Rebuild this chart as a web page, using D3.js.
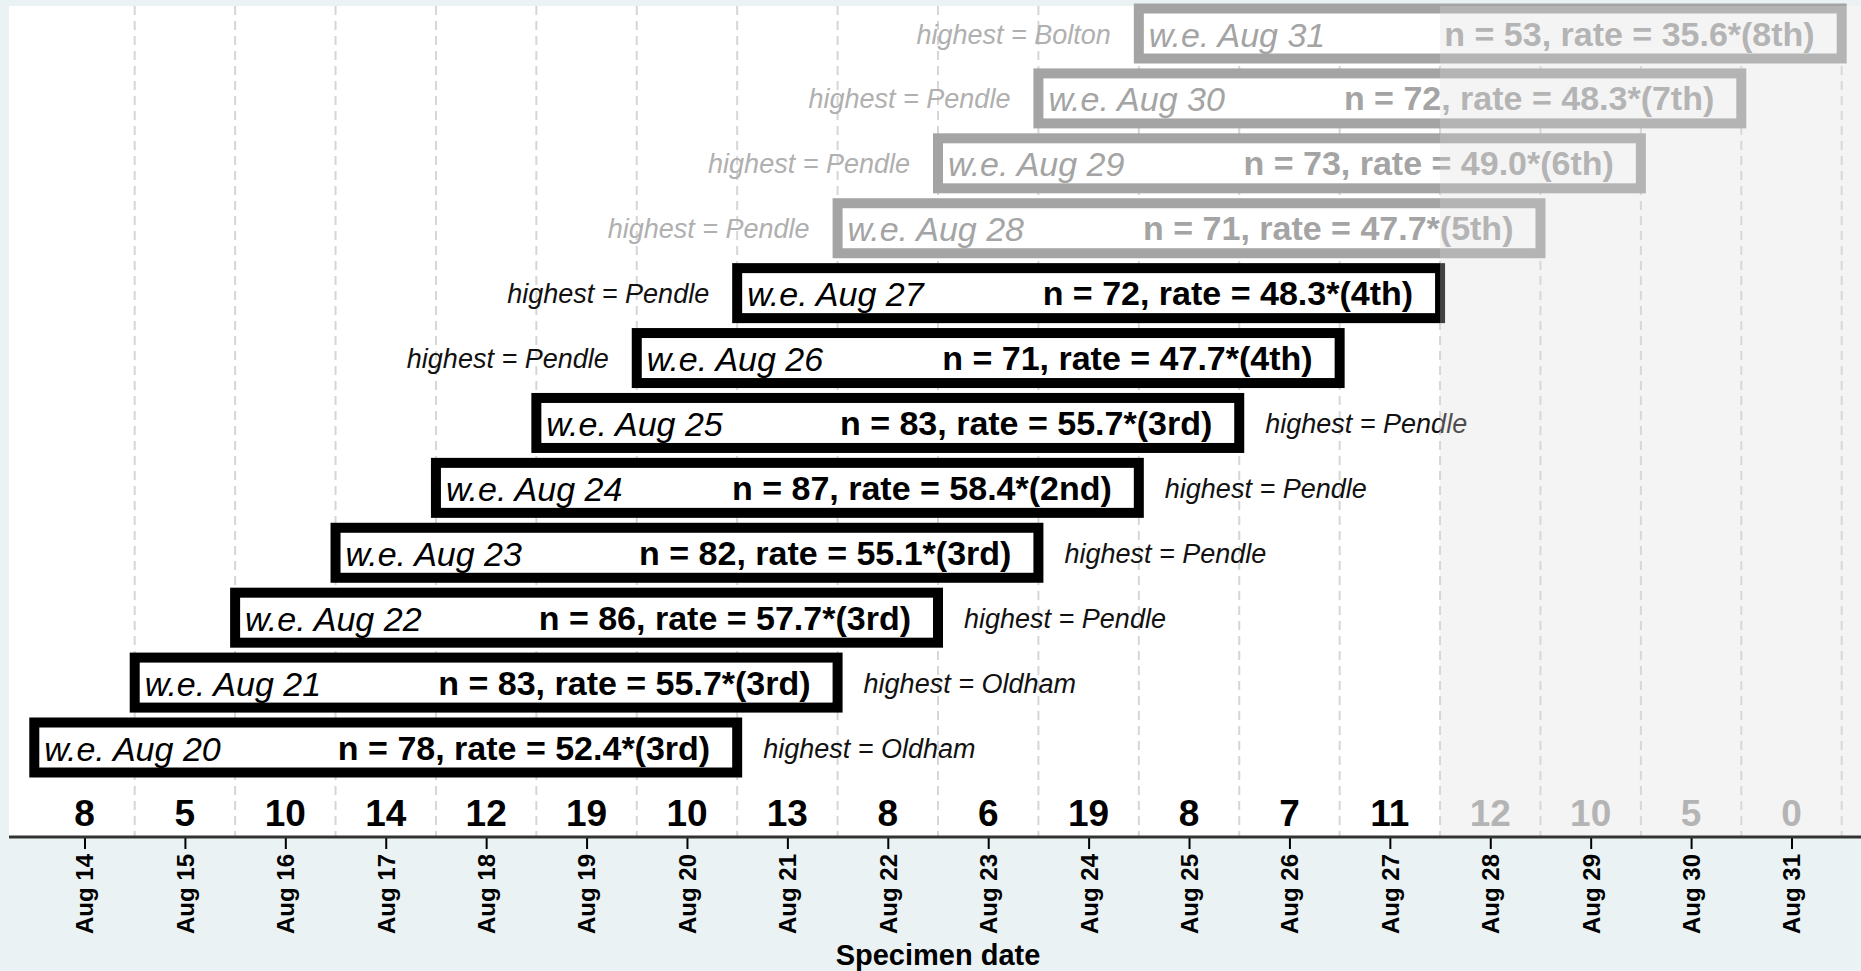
<!DOCTYPE html>
<html>
<head>
<meta charset="utf-8">
<script src="https://cdn.jsdelivr.net/npm/d3@7"></script>
<style>
  html, body { margin: 0; padding: 0; background: #eaf2f3; }
  svg { display: block; }
  text { font-family: "Liberation Sans", Arial, Helvetica, sans-serif; }
</style>
</head>
<body>
<svg id="chart" width="1861" height="971"></svg>
<script>
// ---- data ----
const days = [14, 15, 16, 17, 18, 19, 20, 21, 22, 23, 24, 25, 26, 27, 28, 29, 30, 31];
const dailyCounts = [8, 5, 10, 14, 12, 19, 10, 13, 8, 6, 19, 8, 7, 11, 12, 10, 5, 0];
const weekEnding = [20, 21, 22, 23, 24, 25, 26, 27, 28, 29, 30, 31];
const weekN = [78, 83, 86, 82, 87, 83, 71, 72, 71, 73, 72, 53];
const weekRate = ["52.4", "55.7", "57.7", "55.1", "58.4", "55.7", "47.7", "48.3", "47.7", "49.0", "48.3", "35.6"];
const weekRank = ["3rd", "3rd", "3rd", "3rd", "2nd", "3rd", "4th", "4th", "5th", "6th", "7th", "8th"];
const weekHighest = ["Oldham", "Oldham", "Pendle", "Pendle", "Pendle", "Pendle", "Pendle", "Pendle", "Pendle", "Pendle", "Pendle", "Bolton"];
const completeThrough = 27;   // later specimen dates are incomplete (greyed)
const labelRightThrough = 25; // weeks up to this date carry the "highest" note on the right
const monthName = "Aug";

// ---- layout ----
const W = 1861, H = 971;
const plot = { left: 9, right: 1861, top: 6, bottom: 837 };
const BLACK = "#000", GREY = "#a4a4a4";

const svg = d3.select("#chart");

const x = d3.scaleLinear().domain([14, 31]).range([84.5, 1791.5]);
const y = d3.scaleLinear().domain([20, 31]).range([747.5, 33.5]);

// plot region
svg.append("rect")
  .attr("x", plot.left).attr("y", plot.top)
  .attr("width", plot.right - plot.left).attr("height", plot.bottom - plot.top)
  .attr("fill", "#ffffff");

// dashed gridlines at day boundaries
svg.append("g").selectAll("line")
  .data(days)
  .join("line")
  .attr("x1", d => x(d + 0.5)).attr("x2", d => x(d + 0.5))
  .attr("y1", plot.top).attr("y2", plot.bottom)
  .attr("stroke", "#d6d6d6")
  .attr("stroke-width", 2)
  .attr("stroke-dasharray", "9,6");

// week rows
const weeks = weekEnding.map((d, i) => ({
  d, n: weekN[i], rate: weekRate[i], rank: weekRank[i], highest: weekHighest[i],
  col: d <= completeThrough ? BLACK : GREY,
  right: d <= labelRightThrough
}));

const rows = svg.append("g").selectAll("g").data(weeks).join("g");

rows.append("rect")
  .attr("x", w => x(w.d - 6.5))
  .attr("y", w => y(w.d) - 25)
  .attr("width", w => x(w.d + 0.5) - x(w.d - 6.5))
  .attr("height", 50)
  .attr("fill", "#ffffff")
  .attr("stroke", w => w.col)
  .attr("stroke-width", 10);

rows.append("text")
  .attr("x", w => x(w.d - 6.5) + 10)
  .attr("y", w => y(w.d) + 13)
  .attr("font-size", 34)
  .attr("font-style", "italic")
  .attr("fill", w => w.col)
  .text(w => `w.e. ${monthName} ${w.d}`);

rows.append("text")
  .attr("x", w => x(w.d + 0.5) - 27)
  .attr("y", w => y(w.d) + 12)
  .attr("font-size", 34)
  .attr("font-weight", "bold")
  .attr("text-anchor", "end")
  .attr("fill", w => w.col)
  .text(w => `n = ${w.n}, rate = ${w.rate}*(${w.rank})`);

rows.append("text")
  .attr("x", w => w.right ? x(w.d + 0.5) + 26 : x(w.d - 6.5) - 28)
  .attr("y", w => y(w.d) + 10)
  .attr("font-size", 27)
  .attr("font-style", "italic")
  .attr("text-anchor", w => w.right ? "start" : "end")
  .attr("fill", w => w.col === BLACK ? "#111" : "#b0b0b0")
  .text(w => `highest = ${w.highest}`);

// daily counts
svg.append("g").selectAll("text")
  .data(days)
  .join("text")
  .attr("x", d => x(d))
  .attr("y", 826)
  .attr("text-anchor", "middle")
  .attr("font-size", 37)
  .attr("font-weight", "bold")
  .attr("fill", d => d <= completeThrough ? BLACK : GREY)
  .text((d, i) => dailyCounts[i]);

// shading over incomplete dates
svg.append("rect")
  .attr("x", x(completeThrough + 0.5)).attr("y", plot.top)
  .attr("width", plot.right - x(completeThrough + 0.5))
  .attr("height", plot.bottom - plot.top)
  .attr("fill", "rgb(220,220,220)")
  .attr("opacity", 0.3);

// x axis
const axis = d3.axisBottom(x)
  .tickValues(days)
  .tickFormat(d => `${monthName} ${d}`)
  .tickSize(12)
  .tickPadding(6);

const gAxis = svg.append("g")
  .attr("transform", `translate(0,${plot.bottom})`)
  .call(axis);

gAxis.select(".domain").remove();
gAxis.append("line")
  .attr("x1", plot.left).attr("x2", plot.right)
  .attr("y1", 0).attr("y2", 0)
  .attr("stroke", "#333").attr("stroke-width", 3);
gAxis.selectAll(".tick line").attr("stroke", "#000").attr("stroke-width", 2);
gAxis.selectAll(".tick text")
  .attr("font-family", "\"Liberation Sans\", Arial, sans-serif")
  .attr("font-size", 24)
  .attr("font-weight", "bold")
  .attr("fill", "#000")
  .attr("text-anchor", "end")
  .attr("transform", "rotate(-90)")
  .attr("x", -17)
  .attr("y", 0)
  .attr("dy", "0.35em");

svg.append("text")
  .attr("x", (x(14) + x(31)) / 2)
  .attr("y", 965)
  .attr("text-anchor", "middle")
  .attr("font-size", 29)
  .attr("font-weight", "bold")
  .attr("fill", "#000")
  .text("Specimen date");
</script>
</body>
</html>
